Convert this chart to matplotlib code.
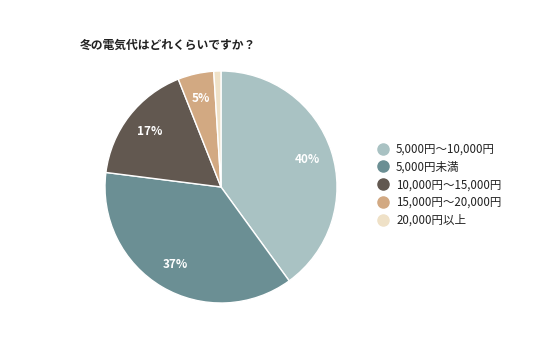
import matplotlib.pyplot as plt
from matplotlib.lines import Line2D

plt.rcParams['font.family'] = ['Noto Sans CJK JP', 'DejaVu Sans']

# data
title = "冬の電気代はどれくらいですか？"
labels = ["5,000円～10,000円", "5,000円未満", "10,000円～15,000円", "15,000円～20,000円", "20,000円以上"]
values = [40, 37, 17, 5, 1]
colors = ["#a9c2c3", "#6b8f94", "#625850", "#d2a982", "#efe1c7"]

fig = plt.figure(figsize=(5.36, 3.57), dpi=100)
ax = fig.add_axes([105 / 536, 54 / 357, 232 / 536, 232 / 357])

def pct(p):
    return f"{p:.0f}%" if p >= 3 else ""

wedges, texts, autotexts = ax.pie(
    values, colors=colors, startangle=90, counterclock=False,
    autopct=pct, pctdistance=0.78,
    wedgeprops=dict(edgecolor="white", linewidth=1),
    textprops=dict(color="white", fontsize=8.5, fontweight="bold"),
)
ax.set_xlim(-1, 1)
ax.set_ylim(-1, 1)
ax.set_aspect("equal")

fig.text(80 / 536, 1 - 45 / 357, title, fontsize=8.5, fontweight="bold",
         color="#222222", va="center", ha="left")

handles = [Line2D([], [], marker="o", linestyle="", markersize=8,
                  markerfacecolor=c, markeredgecolor=c) for c in colors]
fig.legend(handles, labels, loc="upper left",
           bbox_to_anchor=(373 / 536, 1 - 138 / 357), frameon=False,
           fontsize=8.3, labelspacing=0.42, handletextpad=0.6,
           handlelength=1.0, borderaxespad=0, labelcolor="#222222")

fig.savefig("out.png", dpi=100)
